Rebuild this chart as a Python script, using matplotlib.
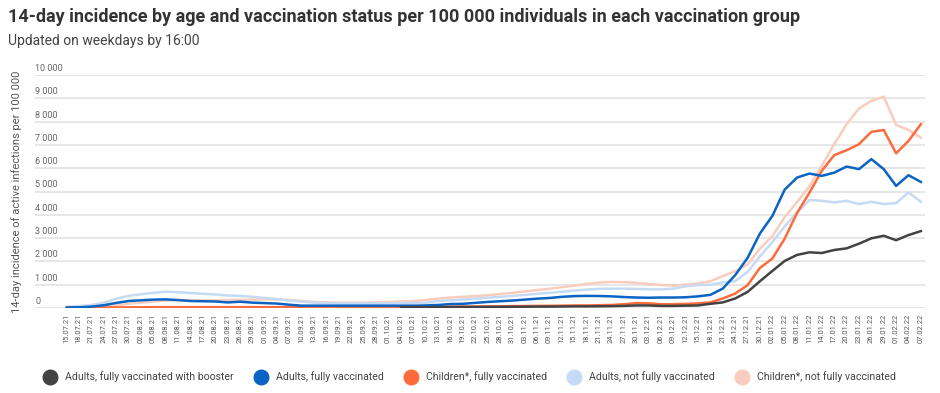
import numpy as np
import pandas as pd
import matplotlib
matplotlib.use("Agg")
import matplotlib.pyplot as plt
import matplotlib.dates as mdates
import matplotlib.transforms as mtransforms
from matplotlib.lines import Line2D

plt.rcParams['font.family'] = ['Roboto', 'DejaVu Sans']

dates = pd.date_range('2021-07-15', '2022-02-07', freq='3D')

booster = [np.nan] * 27 + [
    40, 40, 40,
    40, 40, 45, 45, 50, 50, 55, 55, 60, 60,
    65, 70, 70, 75, 80, 90, 110, 110, 90, 90,
    100, 110, 180, 240, 410, 690, 1150, 1590, 2020, 2280,
    2390, 2360, 2490, 2560, 2760, 2990, 3100, 2910, 3130, 3300]

adults_full = [
    20, 30, 60, 120, 220, 300, 330, 360, 370, 340,
    300, 290, 280, 240, 270, 230, 210, 190, 140, 100,
    100, 100, 100, 100, 100, 100, 100, 100, 100, 110,
    130, 170, 180, 220, 260, 290, 320, 360, 400, 430,
    480, 510, 520, 515, 500, 470, 450, 440, 450, 450,
    460, 500, 565, 835, 1410, 2150, 3200, 3950, 5080, 5600,
    5770, 5670, 5810, 6070, 5960, 6390, 5960, 5240, 5700, 5410]

children_full = [
    10, 10, 15, 20, 25, 30, 30, 35, 35, 35,
    35, 35, 35, 35, 35, 35, 35, 35, 35, 35,
    35, 35, 35, 35, 35, 35, 40, 45, 50, 55,
    55, 60, 60, 60, 65, 70, 80, 85, 90, 95,
    100, 110, 110, 120, 130, 160, 210, 200, 160, 160,
    175, 200, 240, 410, 620, 980, 1720, 2120, 2980, 4080,
    4950, 5890, 6560, 6770, 7030, 7560, 7640, 6640, 7170, 7890]

adults_not_full = [
    50, 80, 130, 230, 400, 520, 590, 650, 700, 680,
    640, 610, 580, 540, 520, 480, 430, 380, 320, 270,
    230, 210, 200, 200, 200, 200, 200, 210, 210, 220,
    300, 330, 360, 400, 440, 480, 520, 560, 610, 650,
    700, 750, 790, 820, 830, 830, 820, 800, 800, 830,
    930, 980, 1000, 1100, 1150, 1550, 2220, 2830, 3500, 4100,
    4640, 4600, 4530, 4600, 4460, 4560, 4460, 4500, 4960, 4560]

children_not_full = [
    40, 50, 60, 90, 130, 180, 230, 280, 320, 330,
    320, 330, 330, 340, 350, 360, 370, 360, 340, 300,
    260, 240, 230, 230, 230, 240, 260, 280, 300, 340,
    400, 450, 480, 510, 550, 600, 650, 710, 770, 830,
    890, 960, 1030, 1090, 1120, 1110, 1080, 1030, 990, 960,
    1000, 1050, 1150, 1370, 1580, 1870, 2550, 3080, 3900, 4550,
    5230, 6100, 7030, 7890, 8560, 8890, 9070, 7860, 7640, 7310]

labels = ['Adults, fully vaccinated with booster', 'Adults, fully vaccinated',
          'Children*, fully vaccinated', 'Adults, not fully vaccinated',
          'Children*, not fully vaccinated']
colors = ['#434343', '#0b63c4', '#fd6b3d', '#c5dbf5', '#f9cdbd']
series = [booster, adults_full, children_full, adults_not_full, children_not_full]

yticks = [0, 1000, 2000, 3000, 4000, 5000, 6000, 7000, 8000, 9000, 10000]
ytick_labels = ['0', '1 000', '2 000', '3 000', '4 000', '5 000', '6 000',
                '7 000', '8 000', '9 000', '10 000']

W, H = 940, 393
fig = plt.figure(figsize=(W / 100, H / 100), dpi=100)
ax = fig.add_axes([35 / W, (H - 308) / H, 890 / W, 233 / H])

for idx in [4, 3, 2, 1, 0]:
    ax.plot(dates, series[idx], color=colors[idx], lw=1.8, solid_joinstyle='round',
            zorder=3 + (4 - idx))

ax.set_ylim(0, 10000)
ax.set_xlim(dates[0] - pd.Timedelta(days=7.7), dates[-1] + pd.Timedelta(days=1))
ax.set_yticks(yticks)
ax.set_yticklabels([])
ax.tick_params(axis='y', length=0)
ax.grid(axis='y', color='#e3e3e3', lw=1.2)
ax.set_axisbelow(True)
for s in ax.spines.values():
    s.set_visible(False)

trans = mtransforms.blended_transform_factory(ax.transAxes, ax.transData)
for v, lab in zip(yticks, ytick_labels):
    ax.text(0.0, v + 90, lab, transform=trans, ha='left', va='bottom',
            fontsize=6.5, color='#666666')

ax.set_xticks(dates)
ax.set_xticklabels([d.strftime('%d.%m.%y') for d in dates], rotation=90,
                   fontsize=5.4, color='#555555')
ax.tick_params(axis='x', length=0, pad=4)

ax.set_ylabel('14-day incidence of active infections per 100 000', fontsize=8,
              color='#555555')
ax.yaxis.set_label_coords(-13 / 890, 0.5)

fig.text(8 / W, 1 - 17 / H, '14-day incidence by age and vaccination status per 100 000 individuals in each vaccination group',
         fontsize=13, fontweight='bold', color='#333333', ha='left', va='center')
fig.text(8 / W, 1 - 41 / H, 'Updated on weekdays by 16:00', fontsize=10,
         color='#444444', ha='left', va='center')

handles = [Line2D([], [], marker='o', ls='none', markersize=10.5,
                  markerfacecolor=c, markeredgecolor=c) for c in colors]
fig.legend(handles, labels, loc='center', bbox_to_anchor=(0.5, 1 - 377 / H),
           ncol=5, frameon=False, fontsize=7.6, handletextpad=0.8,
           columnspacing=2.0, labelcolor='#444444', handlelength=1.2)

fig.savefig('out.png', dpi=100)
